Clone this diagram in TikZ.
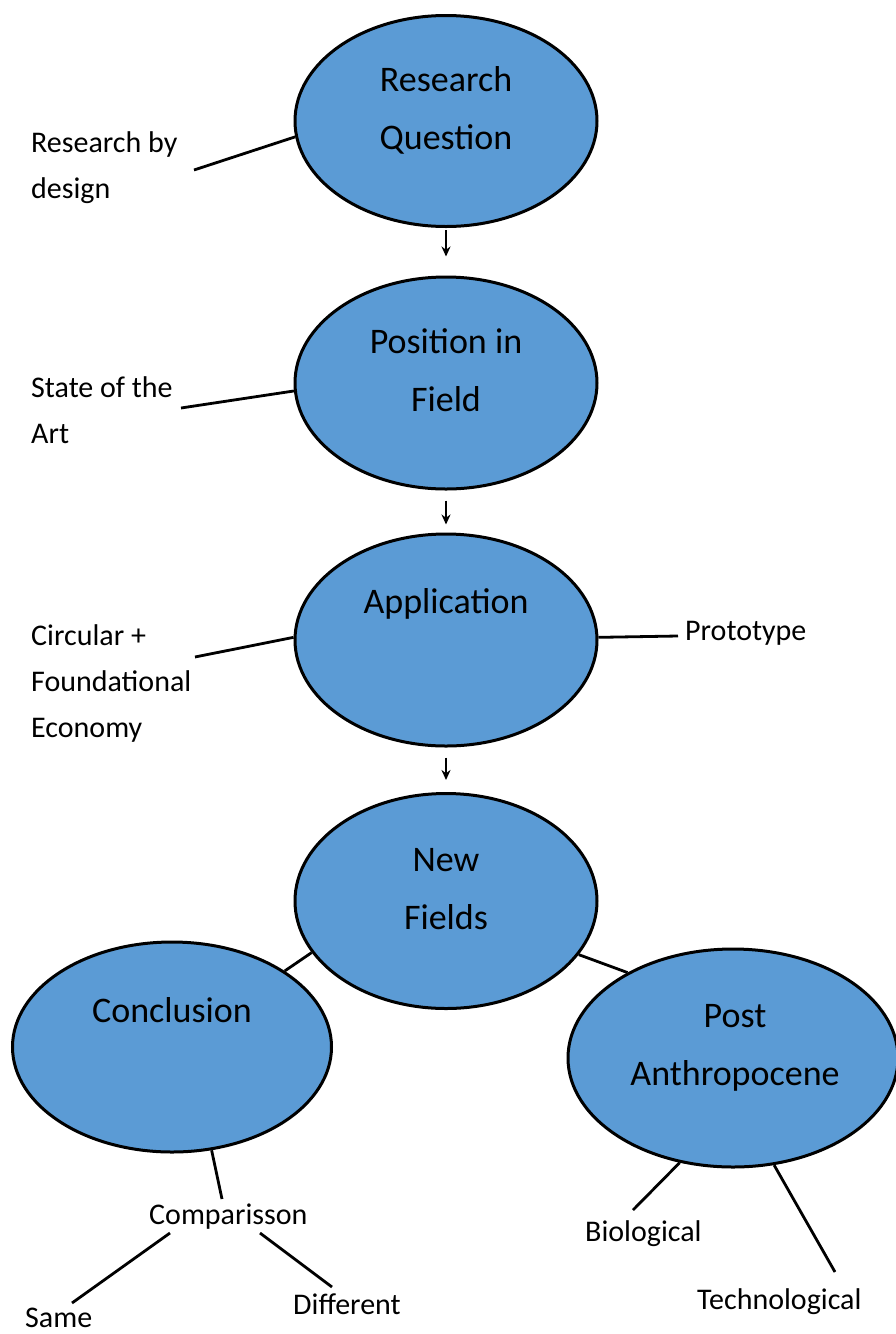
\documentclass[tikz,border=0pt]{standalone}
\usepackage{fontspec}
\setmainfont{Carlito}
\usetikzlibrary{shapes.geometric,arrows.meta}
\definecolor{ellblue}{HTML}{5B9BD5}
\tikzset{
 bubble/.style={ellipse, draw=black, line width=3pt, fill=ellblue, inner sep=0pt},
 big/.style={font=\fontsize{36}{58}\selectfont, align=center, anchor=base, inner sep=0pt},
 small/.style={font=\fontsize{30}{46}\selectfont, align=left, anchor=base west, inner sep=0pt},
 link/.style={line width=2.8pt},
 arr/.style={line width=2.2pt,-{Stealth[length=10pt,width=9pt]}}
}
\begin{document}
\begin{tikzpicture}[x=1pt,y=-1pt]
\useasboundingbox (0,0) rectangle (896,1334);
% ellipses
\node[bubble, minimum width=302pt, minimum height=211pt] (rq) at (446,121) {};
\node[bubble, minimum width=302pt, minimum height=212pt] (pf) at (446,383) {};
\node[bubble, minimum width=302pt, minimum height=212pt] (ap) at (446,640) {};
\node[bubble, minimum width=302pt, minimum height=215pt] (nf) at (446,901) {};
\node[bubble, minimum width=319pt, minimum height=210pt] (co) at (172,1047) {};
\node[bubble, minimum width=330pt, minimum height=218pt] (pa) at (733,1058) {};
% ellipse texts (anchor = baseline of last line)
\node[big] (rqt) at (446,149) {Research\\Question};
\node[big] (pft) at (446,411) {Position in\\Field};
\node[big] (apt) at (446,613) {Application};
\node[big] (nft) at (446,929) {New\\Fields};
\node[big] (cot) at (172,1022) {Conclusion};
\node[big] (pat) at (735,1085) {Post\\Anthropocene};
% side labels
\node[small] (rbd) at (31,198) {Research by\\design};
\node[small] (sota) at (31,443) {State of the\\Art};
\node[small] (cfe) at (31,737) {Circular +\\Foundational\\Economy};
\node[small] (pro) at (685,640) {Prototype};
\node[small] (cmp) at (149,1224) {Comparisson};
\node[small] (same) at (25,1327) {Same};
\node[small] (diff) at (293,1314) {Different};
\node[small] (bio) at (585,1241) {Biological};
\node[small] (tech) at (697,1309) {Technological};
% free ends
\coordinate (rbdE) at (194,170);
\coordinate (sotaE) at (181,408);
\coordinate (cfeE) at (195,657);
\coordinate (proE) at (678,636);
\coordinate (cmpT) at (222,1199);
\coordinate (cmpL) at (170,1233);
\coordinate (cmpR) at (260,1233);
\coordinate (sameE) at (72,1303);
\coordinate (diffE) at (332,1287);
\coordinate (bioE) at (633,1210);
\coordinate (techE) at (835,1272);
% arrows
\draw[arr, shorten <=2pt, shorten >=19pt] (rq.south) -- (pf.north);
\draw[arr, shorten <=10pt, shorten >=8pt] (pf.south) -- (ap.north);
\draw[arr, shorten <=10pt, shorten >=12pt] (ap.south) -- (nf.north);
% links
\draw[link] (rq.186) -- (rbdE);
\draw[link] (pf.183) -- (sotaE);
\draw[link] (ap.179) -- (cfeE);
\draw[link] (ap.1) -- (proE);
\draw[link] (nf.201) -- (co.34);
\draw[link] (nf.-22) -- (pa.141);
\draw[link] (co.291) -- (cmpT);
\draw[link] (cmpL) -- (sameE);
\draw[link] (cmpR) -- (diffE);
\draw[link] (pa.243) -- (bioE);
\draw[link] (pa.291) -- (techE);
\end{tikzpicture}
\end{document}
